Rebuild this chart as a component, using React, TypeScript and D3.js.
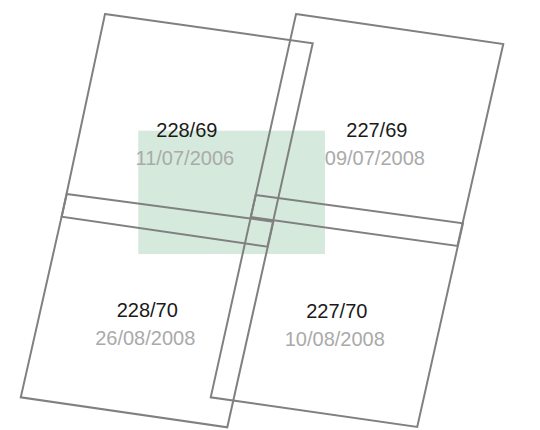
import React, { useEffect, useRef } from 'react';
import * as d3 from 'd3';

// Landsat scene footprints (path/row), corners as [lon, lat]: TL, TR, BR, BL
const sceneIds = ['228/69', '227/69', '228/70', '227/70'];
const sceneDates = ['11/07/2006', '09/07/2008', '26/08/2008', '10/08/2008'];
const footprints: [number, number][][] = [
  [[-61.125, -12.117], [-59.394, -12.361], [-59.771, -14.056], [-61.486, -13.806]],
  [[-59.533, -12.117], [-57.806, -12.367], [-58.188, -14.05], [-59.91, -13.808]],
  [[-61.444, -13.617], [-59.722, -13.847], [-60.106, -15.561], [-61.827, -15.311]],
  [[-59.869, -13.625], [-58.142, -13.861], [-58.523, -15.558], [-60.244, -15.311]],
];

// study area box
const studyLon = [-60.848, -59.292];
const studyLat = [-13.089, -14.117];

const App: React.FC = () => {
  const svgRef = useRef<SVGSVGElement>(null);

  useEffect(() => {
    if (!svgRef.current) return;
    const width = 540;
    const height = 430;

    const svg = d3.select(svgRef.current);
    svg.selectAll('*').remove();

    const x = d3.scaleLinear().domain([-62, -57.5]).range([0, width]);
    const y = d3.scaleLinear().domain([-12, -15.5833]).range([0, height]);

    // green study area
    svg.append('rect')
      .attr('x', x(studyLon[0]))
      .attr('y', y(studyLat[0]))
      .attr('width', x(studyLon[1]) - x(studyLon[0]))
      .attr('height', y(studyLat[1]) - y(studyLat[0]))
      .attr('fill', '#d5eadc');

    const line = d3.line<[number, number]>()
      .x(d => x(d[0]))
      .y(d => y(d[1]))
      .curve(d3.curveLinearClosed);

    svg.selectAll('path.scene')
      .data(footprints)
      .enter()
      .append('path')
      .attr('class', 'scene')
      .attr('d', d => line(d))
      .attr('fill', 'none')
      .attr('stroke', '#808080')
      .attr('stroke-width', 2)
      .attr('stroke-linejoin', 'miter');

    // labels at footprint centroid
    const labels = svg.selectAll('g.label')
      .data(footprints)
      .enter()
      .append('g')
      .attr('class', 'label')
      .attr('transform', d => {
        const c = d3.polygonCentroid(d.map(p => [x(p[0]), y(p[1])] as [number, number]));
        return `translate(${c[0]},${c[1]})`;
      })
      .style('font-family', '"Liberation Sans", Arial, sans-serif')
      .style('font-size', '20px')
      .attr('text-anchor', 'middle');

    labels.append('text')
      .attr('y', 7)
      .attr('fill', '#1a1a1a')
      .text((_, i) => sceneIds[i]);

    labels.append('text')
      .attr('x', -2)
      .attr('y', 35)
      .attr('fill', '#aaaaaa')
      .text((_, i) => sceneDates[i]);
  }, []);

  return (
    <div style={{ position: 'absolute', left: 0, top: 0 }}>
      <svg ref={svgRef} width={540} height={430} style={{ display: 'block' }} />
    </div>
  );
};

export default App;
